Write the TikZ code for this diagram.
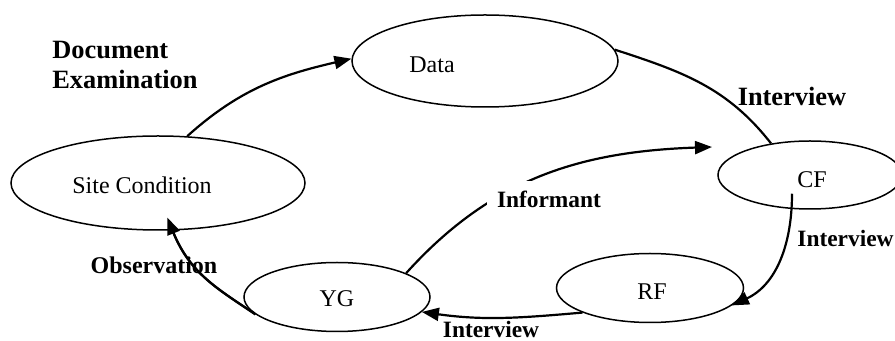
\documentclass[tikz,border=0pt]{standalone}
\usepackage{fontspec}
\setmainfont{Liberation Serif}
\usetikzlibrary{shapes.geometric,arrows.meta}
\begin{document}
\begin{tikzpicture}[x=0.5pt,y=-0.5pt,
  oval/.style={draw,ellipse,line width=0.75pt,inner sep=0pt},
  conn/.style={line width=1.1pt},
  arr/.style={conn,-{Triangle[length=8.5pt,width=6.5pt]}},
  lbl/.style={font=\fontsize{13.2}{15}\selectfont\bfseries},
  slbl/.style={font=\fontsize{11.7}{14}\selectfont\bfseries},
  txt/.style={font=\fontsize{12}{14}\selectfont}]
\useasboundingbox (0,0) rectangle (895,341);
\clip (0,0) rectangle (895,341);
\node[oval,minimum width=133pt,minimum height=46pt,
  label={[txt,xshift=-26.5pt,yshift=-2pt]center:Data}] (data) at (485,61) {};
\node[oval,minimum width=147pt,minimum height=47pt,
  label={[txt,xshift=-8pt,yshift=-1pt]center:Site Condition}] (site) at (158,183) {};
\node[oval,minimum width=93pt,minimum height=34.5pt,
  label={[txt,yshift=-1pt]center:YG}] (yg) at (337,297) {};
\node[oval,minimum width=92pt,minimum height=34pt,
  label={[txt,xshift=1pt,yshift=-2.5pt]center:CF}] (cf) at (810,175) {};
\node[oval,minimum width=93.5pt,minimum height=34.5pt,
  label={[txt,xshift=1pt,yshift=-2pt]center:RF}] (rf) at (650,288) {};
\coordinate (inftip) at (712,147);
% connectors
\draw[arr] (site.58) to[out=42,in=193] (data.179);
\draw[conn] (data.5) to[out=-18,in=128] (cf.141.5);
\draw[arr] ([xshift=-9pt,yshift=8pt]cf.south) to[out=-90,in=25] (rf.-12);
\draw[arr] (rf.200) to[out=185,in=-8] (yg.-10);
\draw[arr] (yg.19) to[out=48,in=182] (inftip);
\draw[arr,shorten >=-7pt] (yg.192) to[out=146,in=-68] (site.-73);
% labels
\node[lbl,align=left] (docex) at (125,65) {Document\\Examination};
\node[lbl] (iv1) at (792,96) {Interview};
\node[slbl,anchor=west,inner xsep=0pt] (iv2) at (797,239) {Interview};
\node[slbl,anchor=base] (iv3) at (491,338) {Interview};
\node[slbl,fill=white,inner xsep=5pt,inner ysep=5pt] (inf) at (549,199) {Informant};
\node[font=\fontsize{12}{14}\selectfont\bfseries] (obs) at (154,265) {Observation};
\draw[conn] (yg.192) to[out=146,in=-68] (site.-73);
\end{tikzpicture}
\end{document}
